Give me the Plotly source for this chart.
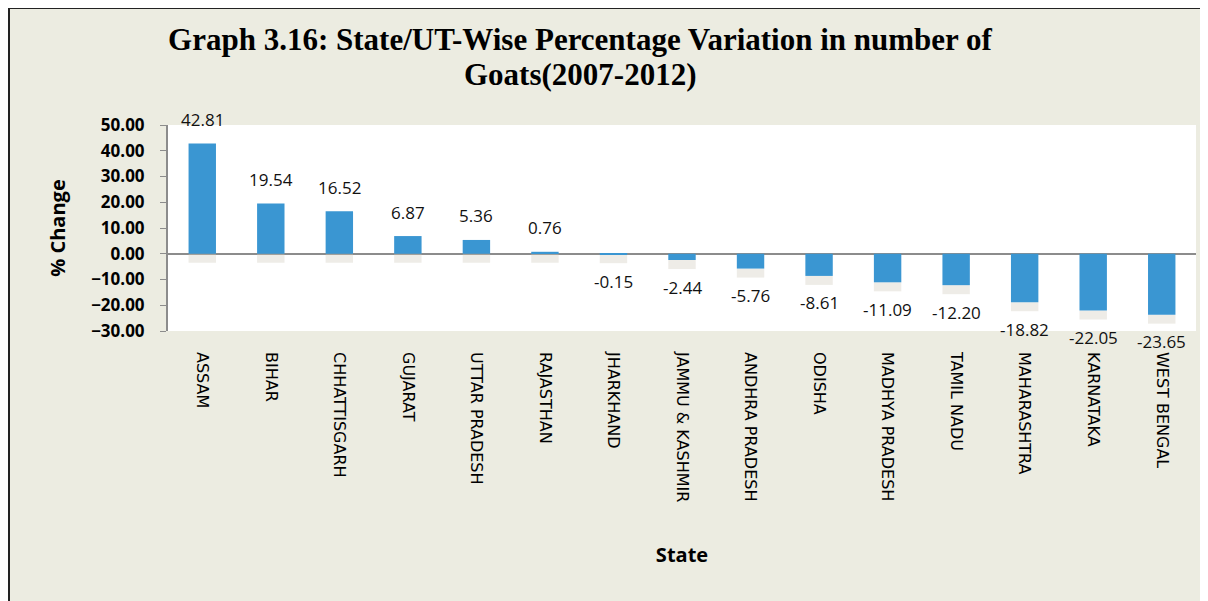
import plotly.graph_objects as go

states = ['ASSAM', 'BIHAR', 'CHHATTISGARH', 'GUJARAT', 'UTTAR PRADESH', 'RAJASTHAN',
          'JHARKHAND', 'JAMMU & KASHMIR', 'ANDHRA PRADESH', 'ODISHA', 'MADHYA PRADESH',
          'TAMIL NADU', 'MAHARASHTRA', 'KARNATAKA', 'WEST BENGAL']
pct_change = [42.81, 19.54, 16.52, 6.87, 5.36, 0.76, -0.15, -2.44, -5.76, -8.61,
              -11.09, -12.20, -18.82, -22.05, -23.65]
y_ticks = [50, 40, 30, 20, 10, 0, -10, -20, -30]

BAR = '#3A96D2'
BG = '#ECECE1'
# the page body adds an 8px margin, so the figure itself is 8px smaller
W, H = 1200, 593
L, R, T, B = 160, 12, 117, 270
pw, ph = W - L - R, H - T - B

def px(x):
    return (x - L) / pw

def py(y):
    return (H - B - y) / ph

fig = go.Figure()

# faint "reflection" under each bar end, like the Excel original
fig.add_trace(go.Bar(
    x=states, y=[-3.5] * len(states),
    base=[min(v, 0) for v in pct_change],
    marker=dict(color='rgba(205,200,185,0.35)', line=dict(width=0)),
    hoverinfo='skip', showlegend=False))

fig.add_trace(go.Bar(
    x=states, y=pct_change,
    marker=dict(color=BAR, line=dict(width=0)),
    showlegend=False))

for s, v in zip(states, pct_change):
    fig.add_annotation(x=s, y=v, text=f'{v:.2f}', showarrow=False,
                       yshift=24 if v > 0 else -27,
                       font=dict(family='Open Sans', size=17, color='#111111'))

title_font = dict(family='Liberation Serif', size=31, color='black', weight='bold')
fig.update_layout(
    width=W, height=H,
    margin=dict(l=L, r=R, t=T, b=B),
    paper_bgcolor=BG, plot_bgcolor='white',
    barmode='overlay', bargap=0.6,
    title=dict(text='Graph 3.16: State/UT-Wise Percentage Variation in number of',
               x=572 / W, xanchor='center', y=1 - 31 / H, yanchor='middle',
               font=title_font),
    font=dict(family='Open Sans', color='black'),
)
fig.add_annotation(xref='paper', yref='paper', x=px(572), y=py(66),
                   xanchor='center', yanchor='middle', showarrow=False,
                   text='Goats(2007-2012)', font=title_font)

fig.update_yaxes(
    range=[-30, 50], tickvals=y_ticks, tickformat='.2f',
    tickfont=dict(family='Open Sans', size=17, weight='bold'),
    showgrid=False, showline=True, linecolor='#8c8c8c', linewidth=2,
    ticks='outside', ticklen=6, tickcolor='#8c8c8c', ticklabelstandoff=12,
    zeroline=True, zerolinecolor='#8c8c8c', zerolinewidth=2,
    title=dict(text='% Change', standoff=20,
               font=dict(family='Open Sans', size=20, weight='bold')))

fig.update_xaxes(
    tickangle=90, showgrid=False, showline=False, ticks='',
    ticklabelstandoff=20,
    tickfont=dict(family='DejaVu Sans', size=16),
    title=dict(text='State', standoff=46,
               font=dict(family='Open Sans', size=20, weight='bold')))

# thin dark frame on the left and top of the page
fig.add_shape(type='line', xref='paper', yref='paper', x0=px(1), x1=px(1), y0=py(0), y1=py(H),
              line=dict(color='#222222', width=2), layer='above')
fig.add_shape(type='line', xref='paper', yref='paper', x0=px(0), x1=px(W), y0=py(0), y1=py(0),
              line=dict(color='#222222', width=2), layer='above')

fig.write_html('out.html')
